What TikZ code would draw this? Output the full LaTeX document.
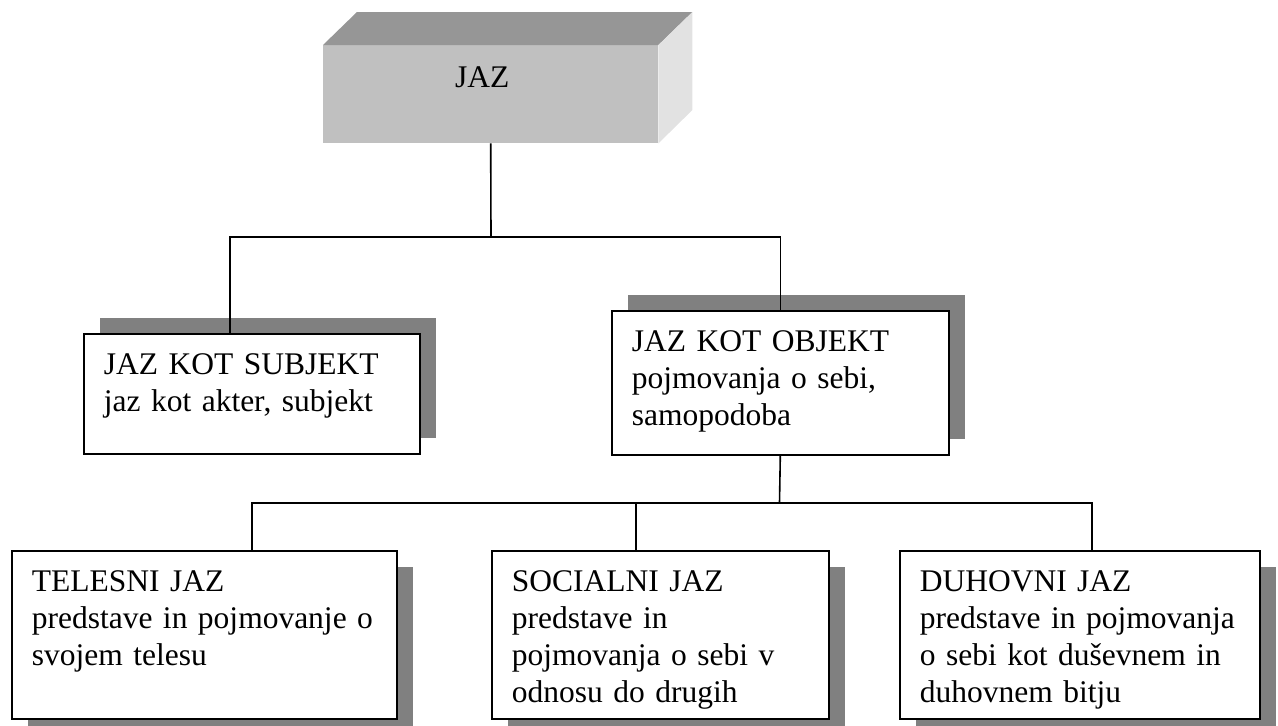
\documentclass[tikz,border=0pt]{standalone}
\usepackage{fontspec}
\setmainfont{Liberation Serif}
\usetikzlibrary{shadows}

\definecolor{shadowgray}{HTML}{808080}
\definecolor{frontgray}{HTML}{C0C0C0}
\definecolor{topgray}{HTML}{969696}
\definecolor{sidegray}{HTML}{E2E2E2}

\tikzset{
	part/.style={draw, line width=1.6pt, fill=white, anchor=north west, align=left,
		inner xsep=20pt, inner ysep=0pt, text height=41pt,
		font=\fontsize{31.5}{37}\selectfont},
	upshadow/.style={drop shadow={shadow xshift=16pt, shadow yshift=16pt, fill=shadowgray, opacity=1}},
	downshadow/.style={drop shadow={shadow xshift=16pt, shadow yshift=-16pt, fill=shadowgray, opacity=1}},
	link/.style={line width=1.6pt},
}

\begin{document}
\begin{tikzpicture}[x=1pt, y=-1pt]
	\useasboundingbox (0,0) rectangle (1278,726);

	\node[fill=frontgray, anchor=north west, inner sep=0pt, text width=335pt, align=left, text height=42pt, text depth=56pt, font=\fontsize{31.5}{37}\selectfont](jaz) at (323,45) {\hspace*{132pt}JAZ};

	\fill[topgray] (jaz.north west) -- ++(34,-33) -- ([shift={(34pt,33pt)}]jaz.north east) -- (jaz.north east) -- cycle;
	\fill[sidegray] (jaz.north east) -- ++(34,-33) -- ++(0,98) -- (jaz.south east) -- cycle;

	% Second level

	\node[part, upshadow, text width=296pt, text depth=79pt](subj) at (83,333) {JAZ KOT SUBJEKT\\jaz kot akter, subjekt};

	\node[part, upshadow, text width=297pt, text depth=103pt](obj) at (611,310) {JAZ KOT OBJEKT\\pojmovanja o sebi,\\samopodoba};

	% Third level

	\node[part, downshadow, text width=345pt, text depth=127pt](tel) at (11,550) {TELESNI JAZ\\\mbox{predstave in pojmovanje o}\\svojem telesu};

	\node[part, downshadow, text width=297pt, text depth=127pt](soc) at (491,550) {SOCIALNI JAZ\\predstave in\\pojmovanja o sebi v\\odnosu do drugih};

	\node[part, downshadow, text width=320pt, text depth=127pt](duh) at (899,550) {DUHOVNI JAZ\\\mbox{predstave in pojmovanja}\\o sebi kot duševnem in\\duhovnem bitju};

	% Lines

	\coordinate (fork1) at (491,237);
	\coordinate (fork2) at (779.5,503);

	\draw[link] (jaz.south) -- (fork1);
	\draw[link] (fork1) -| ([xshift=-22pt]subj.north);
	\draw[link] (fork1) -| (obj.north);

	\draw[link] (obj.south) -- (fork2);
	\draw[link] (fork2) -| ([xshift=47.5pt]tel.north);
	\draw[link] (fork2) -| ([xshift=-24.5pt]soc.north);
	\draw[link] (fork2) -| ([xshift=12pt]duh.north);

\end{tikzpicture}
\end{document}
